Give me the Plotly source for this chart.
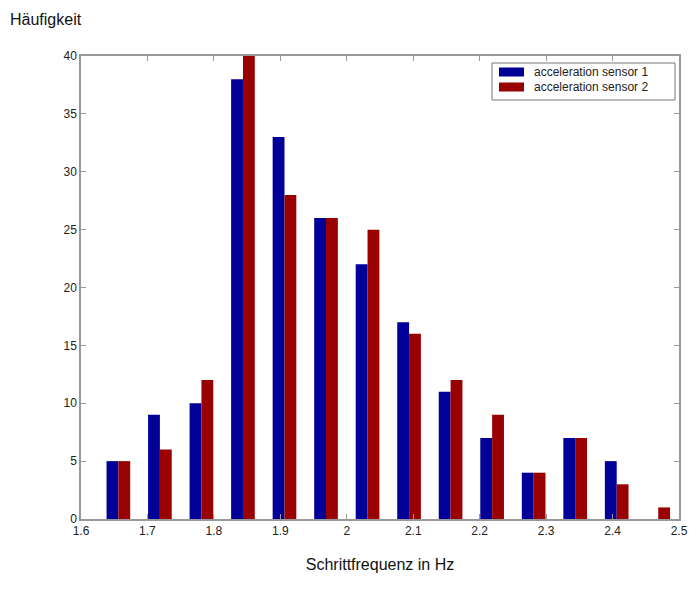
import plotly.graph_objects as go

bin_centers = [1.65625 + 0.0625 * k for k in range(14)]
sensor1 = [5, 9, 10, 38, 33, 26, 22, 17, 11, 7, 4, 7, 5, 0]
sensor2 = [5, 6, 12, 40, 28, 26, 25, 16, 12, 9, 4, 7, 3, 1]
names = ["acceleration sensor 1", "acceleration sensor 2"]
colors = ["#000099", "#990000"]
x_ticks = [1.6, 1.7, 1.8, 1.9, 2.0, 2.1, 2.2, 2.3, 2.4, 2.5]
x_tick_text = ["1.6", "1.7", "1.8", "1.9", "2", "2.1", "2.2", "2.3", "2.4", "2.5"]
y_ticks = [0, 5, 10, 15, 20, 25, 30, 35, 40]

# page offset of 8px (browser body margin) is compensated
OFF = 8
W, H = 680, 585
RIGHT = 679
L, R, T, B = 81 - OFF, W - (RIGHT - OFF), 56 - OFF, H - (519 - OFF)
PW, PH = W - L - R, H - T - B


def px(x):
    return (x - OFF - L) / PW


def py(y):
    return (H - B - (y - OFF)) / PH


fig = go.Figure()
for vals, name, col in zip([sensor1, sensor2], names, colors):
    fig.add_trace(go.Bar(x=bin_centers, y=vals, name=name, showlegend=False,
                         marker=dict(color=col, line=dict(width=0))))

axis_common = dict(showline=True, linecolor="#999999", linewidth=1.5, mirror="ticks",
                   ticks="inside", ticklen=5, tickcolor="#999999", showgrid=False,
                   zeroline=False, automargin=False, ticklabeloverflow="allow",
                   tickfont=dict(family="Liberation Sans, Arial", size=12, color="#222222"))

shapes = [dict(type="rect", xref="paper", yref="paper", x0=px(492), x1=px(675),
               y0=py(100), y1=py(63), line=dict(color="#777777", width=1),
               fillcolor="white", layer="above")]
annotations = [dict(text="Häufigkeit", x=px(8), y=py(20), xref="paper", yref="paper",
                    xanchor="left", yanchor="middle", showarrow=False,
                    font=dict(size=16, color="#111111"))]
for i, (name, col) in enumerate(zip(names, colors)):
    yc = 72 + 15 * i
    shapes.append(dict(type="rect", xref="paper", yref="paper", x0=px(499), x1=px(524),
                       y0=py(yc + 4.5), y1=py(yc - 4.5), line=dict(width=0),
                       fillcolor=col, layer="above"))
    annotations.append(dict(text=name, x=px(532), y=py(yc), xref="paper", yref="paper",
                            xanchor="left", yanchor="middle", showarrow=False,
                            font=dict(size=12, color="#222222")))

fig.update_layout(
    width=W, height=H,
    margin=dict(l=L, r=R, t=T, b=B, pad=0),
    paper_bgcolor="white", plot_bgcolor="white",
    barmode="group", bargap=0.43, bargroupgap=0,
    font=dict(family="Liberation Sans, Arial", color="#111111"),
    xaxis=dict(range=[1.6, 2.5], tickvals=x_ticks, ticktext=x_tick_text,
               title=dict(text="Schrittfrequenz in Hz", font=dict(size=16), standoff=22),
               **axis_common),
    yaxis=dict(range=[0, 40], tickvals=y_ticks, **axis_common),
    showlegend=False,
    shapes=shapes,
    annotations=annotations,
)

fig.write_html("out.html")
